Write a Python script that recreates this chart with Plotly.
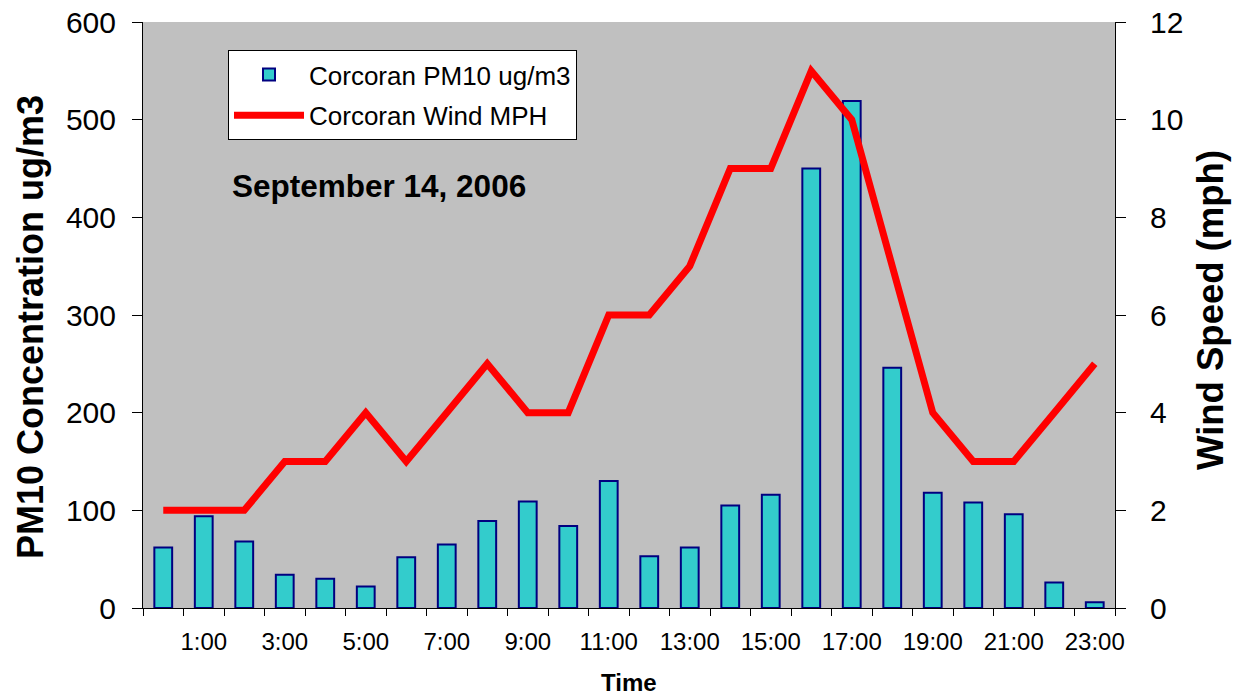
import plotly.graph_objects as go

hours = [f"{h}:00" for h in range(24)]
pm10 = [62, 94, 68, 34, 30, 22, 52, 65, 89, 109, 84, 130, 53, 62, 105, 116, 450, 519, 246, 118, 108, 96, 26, 6]
wind = [2, 2, 2, 3, 3, 4, 3, 4, 5, 4, 4, 6, 6, 7, 9, 9, 11, 10, 7, 4, 3, 3, 4, 5]
label_hours = [h for h in range(24) if h % 2 == 1]

x = list(range(24))
FONT = "Liberation Sans, Arial, sans-serif"

W, H = 1233, 698
L, T, PW, PH = 143, 22, 972, 586
R = W - L - PW
B = H - T - PH


def px(sx):
    return (sx - L) / PW


def py(sy):
    return (T + PH - sy) / PH


fig = go.Figure()
fig.add_trace(go.Bar(
    x=x, y=pm10, name="Corcoran PM10 ug/m3", width=0.44,
    marker=dict(color="#33CCCC", line=dict(color="#000080", width=2)),
    xaxis="x", yaxis="y", legendgroup="a",
))
fig.add_trace(go.Scatter(
    x=x, y=wind, name="Corcoran Wind MPH", mode="lines",
    line=dict(color="#FF0000", width=7),
    xaxis="x", yaxis="y2", legendgroup="b",
))
# invisible trace for label axis
fig.add_trace(go.Scatter(x=[0], y=[0], xaxis="x2", yaxis="y", mode="markers",
                         marker=dict(opacity=0), showlegend=False, hoverinfo="skip"))

fig.update_layout(
    width=W, height=H,
    margin=dict(l=L, r=R, t=T, b=B, autoexpand=False),
    paper_bgcolor="white", plot_bgcolor="#C0C0C0",
    font=dict(family=FONT, size=22, color="black"),
    showlegend=True,
    legend=dict(x=px(228), y=py(50), xanchor="left", yanchor="top",
                bgcolor="white", bordercolor="black", borderwidth=1,
                font=dict(size=26), itemwidth=70, traceorder="grouped",
                tracegroupgap=4),
    xaxis=dict(range=[-0.5, 23.5], tickmode="array", automargin=False,
               tickvals=[i - 0.5 for i in range(25)], ticktext=[""] * 25,
               ticks="outside", ticklen=7, tickcolor="black",
               showline=True, linecolor="black", showgrid=False, zeroline=False),
    xaxis2=dict(range=[-0.5, 23.5], overlaying="x", side="bottom", anchor="y",
                tickmode="array", tickvals=label_hours, automargin=False,
                ticktext=[hours[h] for h in label_hours],
                ticks="outside", ticklen=12, tickcolor="rgba(0,0,0,0)",
                showgrid=False, zeroline=False, showline=False,
                tickfont=dict(size=24)),
    yaxis=dict(range=[0, 600], tickmode="array", tickvals=list(range(0, 601, 100)),
               ticks="outside", ticklen=10, tickcolor="black", automargin=False,
               showline=True, linecolor="black", showgrid=False, zeroline=False,
               tickfont=dict(size=30), ticklabelstandoff=10, ticklabeloverflow="allow"),
    yaxis2=dict(range=[0, 12], overlaying="y", side="right", anchor="x",
                tickmode="array", tickvals=list(range(0, 13, 2)), automargin=False,
                ticks="outside", ticklen=10, tickcolor="black",
                showline=True, linecolor="black", showgrid=False, zeroline=False,
                tickfont=dict(size=30), ticklabelstandoff=18, ticklabeloverflow="allow"),
    annotations=[
        dict(text="<b>September 14, 2006</b>", x=px(230), y=py(186),
             xref="paper", yref="paper", xanchor="left", yanchor="middle",
             showarrow=False, font=dict(size=31.5)),
        dict(text="<b>PM10 Concentration ug/m3</b>", x=px(30), y=py(327),
             xref="paper", yref="paper", xanchor="center", yanchor="middle",
             textangle=-90, showarrow=False, font=dict(size=36)),
        dict(text="<b>Wind Speed (mph)</b>", x=px(1210), y=py(310),
             xref="paper", yref="paper", xanchor="center", yanchor="middle",
             textangle=-90, showarrow=False, font=dict(size=36.5)),
        dict(text="<b>Time</b>", x=0.5, y=py(698), yanchor="bottom",
             xref="paper", yref="paper", xanchor="center",
             showarrow=False, font=dict(size=24)),
    ],
)

fig.write_html("out.html", config={"displayModeBar": False},
               post_script="document.body.style.margin='0';")
